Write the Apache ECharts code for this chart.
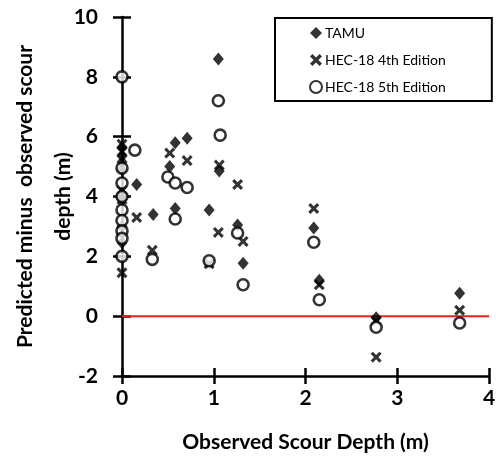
<!DOCTYPE html>
<html><head><meta charset="utf-8">
<script src="https://cdn.jsdelivr.net/npm/echarts@6/dist/echarts.min.js"></script>
<style>html,body{margin:0;padding:0;background:#fff}#c{width:496px;height:459px}</style>
</head><body><div id="c"></div>
<script>
var seriesNames = ['TAMU', 'HEC-18 4th Edition', 'HEC-18 5th Edition'];
var xTicks = [0, 1, 2, 3, 4];
var yTicks = [-2, 0, 2, 4, 6, 8, 10];
var tamu = [
  [0, 5.65], [0, 5.35], [0, 5.15], [0, 4.9], [0, 4.1], [0, 3.9], [0, 3.0], [0, 2.45],
  [0.16, 4.4], [0.34, 3.4], [0.52, 5.0], [0.58, 5.8], [0.71, 5.95], [0.58, 3.6],
  [0.95, 3.55], [1.05, 8.6], [1.06, 4.85], [1.26, 3.05], [1.32, 1.77],
  [2.09, 2.95], [2.15, 1.2], [2.77, -0.05], [3.68, 0.77]
];
var hec4 = [
  [0, 5.75], [0, 5.5], [0, 4.2], [0, 3.9], [0, 1.45],
  [0.16, 3.3], [0.33, 2.2], [0.52, 5.45], [0.71, 5.2], [1.06, 5.05], [1.26, 4.4],
  [1.05, 2.8], [1.32, 2.5], [0.95, 1.75], [2.09, 3.6], [2.15, 1.05],
  [2.77, -0.15], [2.77, -1.37], [3.68, 0.2]
];
var hec5 = [
  [0, 8.0], [0, 4.95], [0, 4.45], [0, 4.0], [0, 3.55], [0, 3.2], [0, 2.85], [0, 2.6], [0, 2.0],
  [0.14, 5.55], [0.33, 1.9], [0.5, 4.65], [0.58, 4.45], [0.71, 4.3], [0.58, 3.25],
  [0.95, 1.85], [1.05, 7.2], [1.07, 6.05], [1.26, 2.78], [1.32, 1.05],
  [2.09, 2.47], [2.15, 0.55], [2.77, -0.37], [3.68, -0.23]
];
var zeroLine = [[0, 0], [4, 0]];

var FONT = 'Lato';
var xPath = 'path://M2,0 L5,3 L8,0 L10,2 L7,5 L10,8 L8,10 L5,7 L2,10 L0,8 L3,5 L0,2 Z';

var chart = echarts.init(document.getElementById('c'), null, {renderer: 'canvas'});
var axisCommonY = {
  type: 'value', min: yTicks[0], max: yTicks[yTicks.length - 1], interval: 2,
  splitLine: {show: false}
};
var axisCommonX = {
  type: 'value', min: xTicks[0], max: xTicks[xTicks.length - 1], interval: 1,
  splitLine: {show: false}
};
chart.setOption({
  animation: false,
  textStyle: {fontFamily: FONT, color: '#000'},
  grid: {left: 122, right: 7, top: 17, bottom: 83, containLabel: false, outerBoundsMode: 'none'},
  legend: {
    left: 275, top: 18, orient: 'vertical',
    padding: [7, 46, 6, 34],
    itemGap: 11,
    itemWidth: 12, itemHeight: 12,
    borderColor: '#000', borderWidth: 2,
    textStyle: {fontFamily: FONT, fontSize: 14, color: '#000', lineHeight: 16, padding: [0, 0, 0, -2]},
    data: [
      {name: seriesNames[0], icon: 'diamond'},
      {name: seriesNames[1], icon: xPath},
      {name: seriesNames[2], icon: 'circle'}
    ]
  },
  xAxis: [
    Object.assign({}, axisCommonX, {
      name: 'Observed Scour Depth (m)', nameLocation: 'middle', nameGap: 56, nameMoveOverlap: false,
      nameTextStyle: {fontFamily: FONT, fontSize: 21, fontWeight: 'bold', color: '#000'},
      axisLine: {onZero: false, lineStyle: {color: '#000', width: 2.5}},
      axisTick: {show: true, length: 8, lineStyle: {color: '#000', width: 2.5}},
      axisLabel: {margin: 12, fontFamily: FONT, fontSize: 21, fontWeight: 'bold', color: '#000'}
    }),
    Object.assign({}, axisCommonX, {
      position: 'bottom',
      axisLine: {show: false, onZero: false},
      axisTick: {show: true, inside: true, length: 8, lineStyle: {color: '#000', width: 2.5}},
      axisLabel: {show: false}
    })
  ],
  yAxis: [
    Object.assign({}, axisCommonY, {
      name: 'Predicted minus  observed scour\ndepth (m)', nameLocation: 'middle', nameGap: 40, nameMoveOverlap: false,
      nameTextStyle: {fontFamily: FONT, fontSize: 21, fontWeight: 'bold', color: '#000', lineHeight: 38},
      axisLine: {onZero: false, lineStyle: {color: '#000', width: 2.5}},
      axisTick: {show: true, length: 9, lineStyle: {color: '#000', width: 2.5}},
      axisLabel: {margin: 24, fontFamily: FONT, fontSize: 21, fontWeight: 'bold', color: '#000'}
    }),
    Object.assign({}, axisCommonY, {
      position: 'left',
      axisLine: {show: false, onZero: false},
      axisTick: {show: true, inside: true, length: 9, lineStyle: {color: '#000', width: 2.5}},
      axisLabel: {show: false}
    })
  ],
  series: [
    {
      type: 'line', data: zeroLine, symbol: 'none', silent: true, z: 1,
      lineStyle: {color: '#e8231e', width: 2}, xAxisIndex: 0, yAxisIndex: 0
    },
    {
      name: seriesNames[0], type: 'scatter', data: tamu, symbol: 'diamond', symbolSize: [11, 13], z: 3,
      itemStyle: {color: '#000'}
    },
    {
      name: seriesNames[1], type: 'scatter', data: hec4, symbol: xPath, symbolSize: 11, z: 3,
      itemStyle: {color: '#000'}
    },
    {
      name: seriesNames[2], type: 'scatter', data: hec5, symbol: 'circle', symbolSize: 11, z: 3,
      itemStyle: {color: '#fff', borderColor: '#000', borderWidth: 2.6}
    }
  ]
});
</script></body></html>
